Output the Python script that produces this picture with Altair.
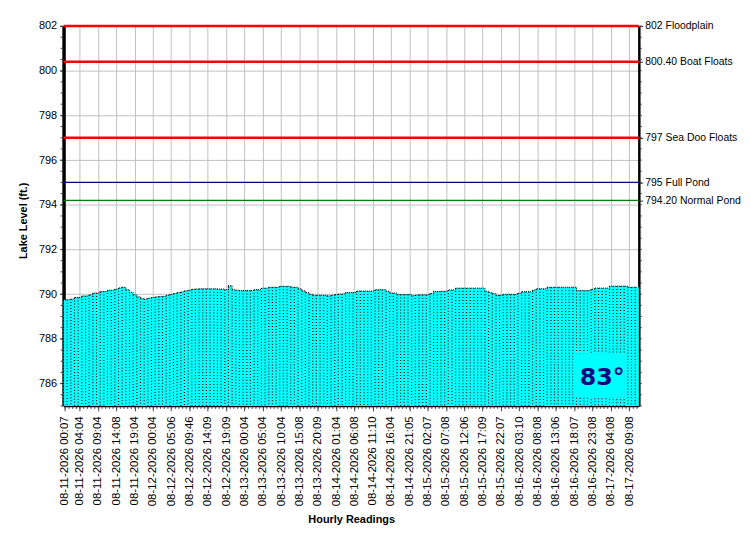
import altair as alt
import pandas as pd

# ---------------- data ----------------
levels = [
    789.75, 789.75, 789.78, 789.85, 789.85, 789.92, 789.92, 789.97, 790.05, 790.05,
    790.12, 790.12, 790.18, 790.18, 790.22, 790.28, 790.31, 790.20, 790.08, 789.97,
    789.88, 789.80, 789.78, 789.82, 789.85, 789.88, 789.90, 789.90, 789.95, 789.98,
    790.03, 790.07, 790.10, 790.15, 790.18, 790.22, 790.23, 790.24, 790.24, 790.24,
    790.24, 790.24, 790.23, 790.23, 790.20, 790.38, 790.20, 790.18, 790.16, 790.16,
    790.16, 790.16, 790.20, 790.20, 790.27, 790.27, 790.31, 790.31, 790.31, 790.35,
    790.35, 790.35, 790.31, 790.31, 790.24, 790.15, 790.07, 790.00, 789.95, 789.95,
    789.95, 789.95, 789.92, 789.95, 789.98, 790.01, 790.01, 790.07, 790.07, 790.07,
    790.14, 790.14, 790.14, 790.14, 790.14, 790.20, 790.20, 790.20, 790.13, 790.05,
    790.05, 789.98, 789.98, 789.98, 789.98, 789.93, 789.96, 789.97, 789.97, 789.97,
    790.03, 790.12, 790.12, 790.13, 790.13, 790.19, 790.19, 790.27, 790.27, 790.27,
    790.27, 790.27, 790.27, 790.27, 790.27, 790.13, 790.08, 790.02, 789.95, 789.95,
    789.99, 789.99, 789.99, 789.99, 790.04, 790.11, 790.11, 790.11, 790.18, 790.24,
    790.24, 790.24, 790.31, 790.31, 790.31, 790.31, 790.31, 790.31, 790.31, 790.31,
    790.16, 790.16, 790.16, 790.16, 790.22, 790.27, 790.27, 790.27, 790.27, 790.36,
    790.36, 790.36, 790.36, 790.36, 790.31, 790.31, 790.31,
]

tick_index = [0, 4, 9, 14, 19, 24, 29, 34, 39, 44, 49, 54, 59, 64, 69, 74,
              79, 84, 89, 94, 99, 104, 109, 114, 119, 124, 129, 134, 139, 144, 149, 154]
tick_labels = [
    "08-11-2026 00:07", "08-11-2026 04:04", "08-11-2026 09:04", "08-11-2026 14:08",
    "08-11-2026 19:04", "08-12-2026 00:04", "08-12-2026 05:06", "08-12-2026 09:46",
    "08-12-2026 14:09", "08-12-2026 19:09", "08-13-2026 00:04", "08-13-2026 05:04",
    "08-13-2026 10:04", "08-13-2026 15:08", "08-13-2026 20:09", "08-14-2026 01:04",
    "08-14-2026 06:08", "08-14-2026 11:10", "08-14-2026 16:04", "08-14-2026 21:05",
    "08-15-2026 02:07", "08-15-2026 07:08", "08-15-2026 12:06", "08-15-2026 17:09",
    "08-15-2026 22:07", "08-16-2026 03:10", "08-16-2026 08:08", "08-16-2026 13:06",
    "08-16-2026 18:07", "08-16-2026 23:08", "08-17-2026 04:08", "08-17-2026 09:08",
]

ref_values = [802, 800.4, 797, 795, 794.2]
ref_names = ["802 Floodplain", "800.40 Boat Floats", "797 Sea Doo Floats",
             "795 Full Pond", "794.20 Normal Pond"]
ref_kind = ["flood", "flood", "flood", "full", "normal"]

y_ticks = [786, 788, 790, 792, 794, 796, 798, 800, 802]
y_min, y_max = 785, 802
water_temp = "83°"

# ---------------- styles ----------------
W, H = 580, 383
FONT = "Liberation Sans"
kind_color = {"flood": "#ff0000", "full": "#000080", "normal": "#008000"}
kind_width = {"flood": 2.5, "full": 1.2, "normal": 1.2}

df = pd.DataFrame({"i": list(range(len(levels))), "level": levels, "base": [y_min] * len(levels)})
ref_df = pd.DataFrame({
    "v": ref_values, "name": ref_names,
    "c": [kind_color[k] for k in ref_kind],
    "w": [kind_width[k] for k in ref_kind],
})
minor_vals = [y_min + 0.5 * k for k in range(int((y_max - y_min) * 2) + 1)]
minor_df = pd.DataFrame({"m": minor_vals})

yscale = alt.Scale(domain=[y_min, y_max], nice=False, zero=False)
xscale = alt.Scale(paddingInner=0, paddingOuter=0)

lab_expr = "[" + ",".join("'%s'" % s for s in tick_labels) + "][indexof([" + \
    ",".join(str(v) for v in tick_index) + "], datum.value)]"
ref_expr = "[" + ",".join("'%s'" % s for s in ref_names) + "][indexof([" + \
    ",".join(str(v) for v in ref_values) + "], datum.value)]"

x_axis = alt.Axis(values=tick_index, labelExpr=lab_expr, labelAngle=270,
                  labelFont=FONT, labelFontSize=11.5, labelColor="black",
                  labelPadding=5, tickSize=5, tickColor="#444",
                  bandPosition=0.5,
                  domainColor="black", domainWidth=1.5,
                  grid=True, gridColor="#c0c0c0", gridWidth=1,
                  title="Hourly Readings", titleFont=FONT, titleFontSize=11,
                  titleFontWeight="bold", titleColor="black",
                  titleY=109, labelOverlap=False)

base = alt.Chart(df)

bars = base.mark_bar(color="#00ffff", stroke=None).encode(
    x=alt.X("i:O", scale=xscale, axis=x_axis),
    y=alt.Y("level:Q", scale=yscale,
            axis=alt.Axis(values=y_ticks, labelFont=FONT, labelFontSize=11,
                          labelColor="black", labelPadding=3, tickSize=4,
                          tickColor="#444", domainColor="black", domainWidth=3.5,
                          grid=True, gridColor="#c0c0c0", gridWidth=1,
                          title="Lake Level (ft.)", titleFont=FONT, titleFontSize=11,
                          titleFontWeight="bold", titleColor="black",
                          titleX=-35, titleY=196)),
    y2=alt.Y2("base:Q"),
)

dots = base.mark_rule(color="black", strokeWidth=1.1, strokeDash=[1, 2]).encode(
    x=alt.X("i:O", scale=xscale, bandPosition=0, axis=x_axis),
    y=alt.Y("level:Q", scale=yscale, axis=None),
    y2=alt.Y2("base:Q"),
)

tops = base.mark_line(color="black", strokeWidth=1, strokeDash=[1, 1],
                      interpolate="step").encode(
    x=alt.X("i:O", scale=xscale, axis=x_axis),
    y=alt.Y("level:Q", scale=yscale, axis=None),
)

refs = alt.Chart(ref_df).mark_rule().encode(
    y=alt.Y("v:Q", scale=yscale,
            axis=alt.Axis(orient="right", values=ref_values, labelExpr=ref_expr,
                          labelFont=FONT, labelFontSize=10.5, labelColor="black",
                          labelPadding=2, tickSize=4, tickColor="#444",
                          domainColor="black", domainWidth=2.5, grid=False,
                          title=None, labelOverlap=False)),
    color=alt.Color("c:N", scale=None),
    strokeWidth=alt.StrokeWidth("w:Q", scale=None),
)

minor_left = alt.Chart(minor_df).mark_rule(color="#444", strokeWidth=1).encode(
    y=alt.Y("m:Q", scale=yscale, axis=None),
    x=alt.value(-3), x2=alt.value(-1),
)
minor_right = alt.Chart(minor_df).mark_rule(color="#444", strokeWidth=1).encode(
    y=alt.Y("m:Q", scale=yscale, axis=None),
    x=alt.value(W + 1), x2=alt.value(W + 3),
)
minor_bottom = base.mark_rule(color="#444", strokeWidth=1).encode(
    x=alt.X("i:O", scale=xscale, axis=x_axis),
    y=alt.value(H + 1), y2=alt.value(H + 3),
)

temp_df = pd.DataFrame({"t": [water_temp]})
temp_box = alt.Chart(temp_df).mark_rect(color="#00ffff").encode(
    x=alt.value(514), x2=alt.value(566), y=alt.value(330), y2=alt.value(374),
)
temp_text = alt.Chart(temp_df).mark_text(
    font="DejaVu Sans", fontSize=24, fontWeight="bold", color="#0a0a80",
    align="center", baseline="middle",
).encode(x=alt.value(543), y=alt.value(355), text="t:N")

chart = alt.layer(
    bars, dots, tops, refs, minor_left, minor_right, minor_bottom, temp_box, temp_text
).resolve_axis(y="independent").properties(
    width=W, height=H,
    autosize=alt.AutoSizeParams(type="none"),
    padding={"left": 56, "top": 16, "right": 104, "bottom": 127},
    background="white",
).configure_view(strokeWidth=0)

chart.save("out.html", embed_options={"renderer": "svg", "actions": False})
